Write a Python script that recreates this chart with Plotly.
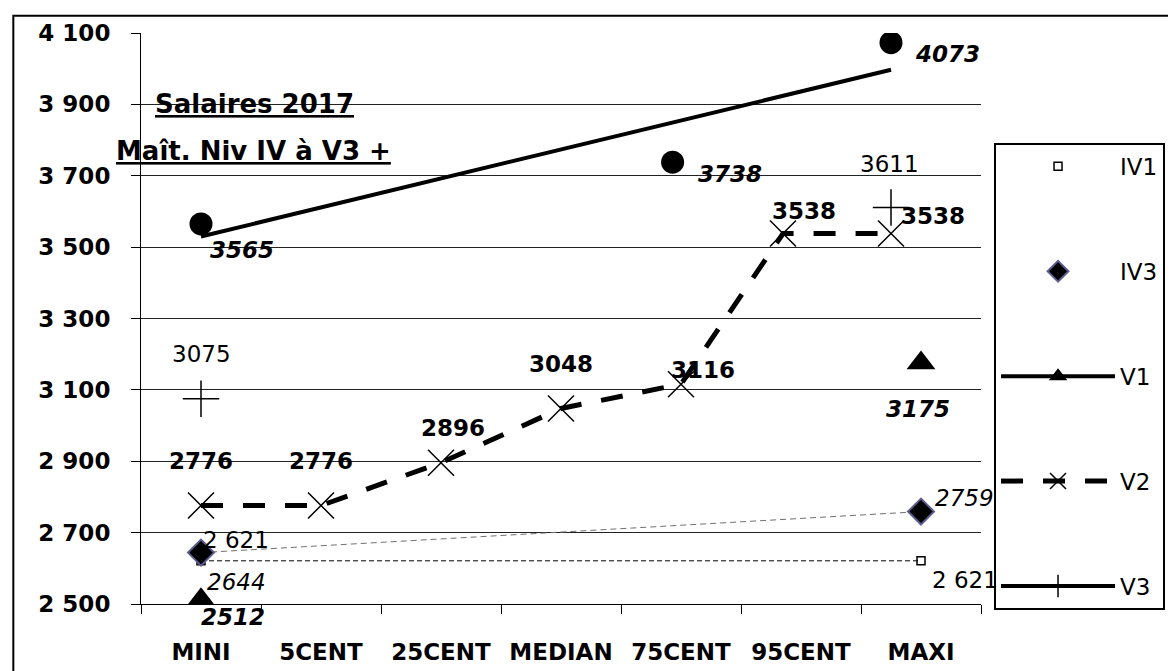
import numpy as np
import plotly.graph_objects as go

# ---------------- data ----------------
categories = ["MINI", "5CENT", "25CENT", "MEDIAN", "75CENT", "95CENT", "MAXI"]
y_ticks = [2500, 2700, 2900, 3100, 3300, 3500, 3700, 3900, 4100]
y_ticktext = ["2 500", "2 700", "2 900", "3 100", "3 300", "3 500", "3 700", "3 900", "4 100"]

iv1_x = [0, 6]
iv1 = [2621, 2621]
iv1_text = ["2 621", "2 621"]

iv3_x = [0, 6]
iv3 = [2644, 2759]

v1_x = [0, 6]
v1 = [2512, 3175]

v2_x = [0, 1, 2, 3, 4, 4.85, 5.75]
v2 = [2776, 2776, 2896, 3048, 3116, 3538, 3538]

v3_x = [0, 5.75]
v3 = [3075, 3611]

top_x = [0, 3.93, 5.75]
top = [3565, 3738, 4073]

FONT = "DejaVu Sans"
FS = 23

fig = go.Figure()


def with_gap(xs, ys):
    # insert a gap between isolated points so no line is drawn between them
    gx, gy = [], []
    for i, (a, b) in enumerate(zip(xs, ys)):
        if i > 0:
            gx.append((xs[i - 1] + a) / 2)
            gy.append(None)
        gx.append(a)
        gy.append(b)
    return gx, gy


# connecting thin lines for IV1 / IV3 (not in legend)
fig.add_trace(go.Scatter(x=iv1_x, y=iv1, mode="lines", showlegend=False, hoverinfo="skip",
                         line=dict(color="black", width=1, dash="5px,3px")))
fig.add_trace(go.Scatter(x=iv3_x, y=iv3, mode="lines", showlegend=False, hoverinfo="skip",
                         line=dict(color="#707070", width=1, dash="6px,4px")))

# trend line of the top series
coef = np.polyfit(top_x, top, 1)
trend_x = [top_x[0], top_x[-1]]
trend_y = list(np.polyval(coef, trend_x))
fig.add_trace(go.Scatter(x=trend_x, y=trend_y, mode="lines", showlegend=False, hoverinfo="skip",
                         line=dict(color="black", width=4)))
fig.add_trace(go.Scatter(x=top_x, y=top, mode="markers", showlegend=False,
                         marker=dict(symbol="circle", size=23, color="black")))

# legend series
fig.add_trace(go.Scatter(x=iv1_x, y=iv1, mode="markers", name="IV1", legendgroup="a",
                         marker=dict(symbol="square-open", size=8, color="black",
                                     line=dict(color="black", width=1.5))))
fig.add_trace(go.Scatter(x=iv3_x, y=iv3, mode="markers", name="IV3", legendgroup="b",
                         marker=dict(symbol="diamond", size=20, color="black",
                                     line=dict(color="#5c5c90", width=2))))
gx, gy = with_gap(v1_x, v1)
fig.add_trace(go.Scatter(x=gx, y=gy, mode="lines+markers", name="V1", legendgroup="c",
                         connectgaps=False,
                         line=dict(color="black", width=4),
                         marker=dict(symbol="triangle-up", size=25, color="black")))
fig.add_trace(go.Scatter(x=v2_x, y=v2, mode="lines+markers", name="V2", legendgroup="d",
                         line=dict(color="black", width=5, dash="22px,20px"),
                         marker=dict(symbol="x-thin-open", size=26, color="black",
                                     line=dict(color="black", width=1.5))))
gx, gy = with_gap(v3_x, v3)
fig.add_trace(go.Scatter(x=gx, y=gy, mode="lines+markers", name="V3", legendgroup="e",
                         connectgaps=False,
                         line=dict(color="black", width=4),
                         marker=dict(symbol="cross-thin-open", size=26, color="black",
                                     line=dict(color="black", width=1.5))))

# ---------------- data labels ----------------
annotations = []


def label(x, y, text, dx, dy, bold=False, italic=False):
    annotations.append(dict(
        x=x, y=y, xref="x", yref="y", text=text, showarrow=False,
        xshift=dx, yshift=dy,
        font=dict(family=FONT, size=FS, color="black",
                  weight="bold" if bold else "normal",
                  style="italic" if italic else "normal")))


v2_off = [(0, 45), (0, 45), (12, 35), (0, 44), (22, 14), (21, 23), (42, 18)]
for x, y, (dx, dy) in zip(v2_x, v2, v2_off):
    label(x, y, str(y), dx, dy, bold=True)

top_off = [(41, -26), (57, -12), (56, -11)]
for x, y, (dx, dy) in zip(top_x, top, top_off):
    label(x, y, str(y), dx, dy, bold=True, italic=True)

v3_off = [(0, 45), (-2, 44)]
for x, y, (dx, dy) in zip(v3_x, v3, v3_off):
    label(x, y, str(y), dx, dy)

iv1_off = [(35, 21), (44, -19)]
for x, y, t, (dx, dy) in zip(iv1_x, iv1, iv1_text, iv1_off):
    label(x, y, t, dx, dy)

iv3_off = [(35, -29), (43, 14)]
for x, y, (dx, dy) in zip(iv3_x, iv3, iv3_off):
    label(x, y, str(y), dx, dy, italic=True)

v1_off = [(32, -17), (-3, -46)]
for x, y, (dx, dy) in zip(v1_x, v1, v1_off):
    label(x, y, str(y), dx, dy, bold=True, italic=True)

# title
annotations.append(dict(x=0.135, y=0.875, xref="paper", yref="paper", showarrow=False,
                        xanchor="center", yanchor="middle",
                        text="<u>Salaires 2017</u>",
                        font=dict(family=FONT, size=26, color="black", weight="bold")))
annotations.append(dict(x=0.134, y=0.793, xref="paper", yref="paper", showarrow=False,
                        xanchor="center", yanchor="middle",
                        text="<u>Maît. Niv IV à V3 +</u>",
                        font=dict(family=FONT, size=26, color="black", weight="bold")))

fig.update_layout(
    width=1176, height=671,
    margin=dict(l=133, r=203, t=21, b=75),
    paper_bgcolor="white", plot_bgcolor="white",
    showlegend=True,
    annotations=annotations,
    legend=dict(x=1.0155, y=0.8075, xanchor="left", yanchor="top",
                bgcolor="white", bordercolor="black", borderwidth=2,
                font=dict(family=FONT, size=FS, color="black"),
                tracegroupgap=72, itemwidth=114, traceorder="grouped",
                entrywidth=230, entrywidthmode="pixels"),
    shapes=[dict(type="rect", xref="paper", yref="paper",
                 x0=-0.152, x1=1.4, y0=-0.3, y1=1.030,
                 line=dict(color="black", width=2), fillcolor="rgba(0,0,0,0)", layer="below")],
)

fig.update_xaxes(
    range=[-0.5, 6.5],
    tickmode="array", tickvals=list(range(len(categories))), ticktext=categories,
    ticks="", showgrid=False, zeroline=False,
    showline=True, linecolor="black", linewidth=1,
    tickfont=dict(family=FONT, size=FS, color="black", weight="bold"),
    ticklabelstandoff=27,
    minor=dict(tick0=0.5, dtick=1, ticks="outside", ticklen=9, tickcolor="black", tickwidth=1,
               showgrid=False),
)
fig.update_yaxes(
    range=[2500, 4100],
    tickmode="array", tickvals=y_ticks, ticktext=y_ticktext,
    ticks="outside", ticklen=9, tickcolor="black", tickwidth=1,
    showgrid=True, gridcolor="#222222", gridwidth=1, zeroline=False,
    showline=True, linecolor="black", linewidth=1,
    tickfont=dict(family=FONT, size=FS, color="black", weight="bold"),
    ticklabelstandoff=16,
)

fig.write_html("out.html")
